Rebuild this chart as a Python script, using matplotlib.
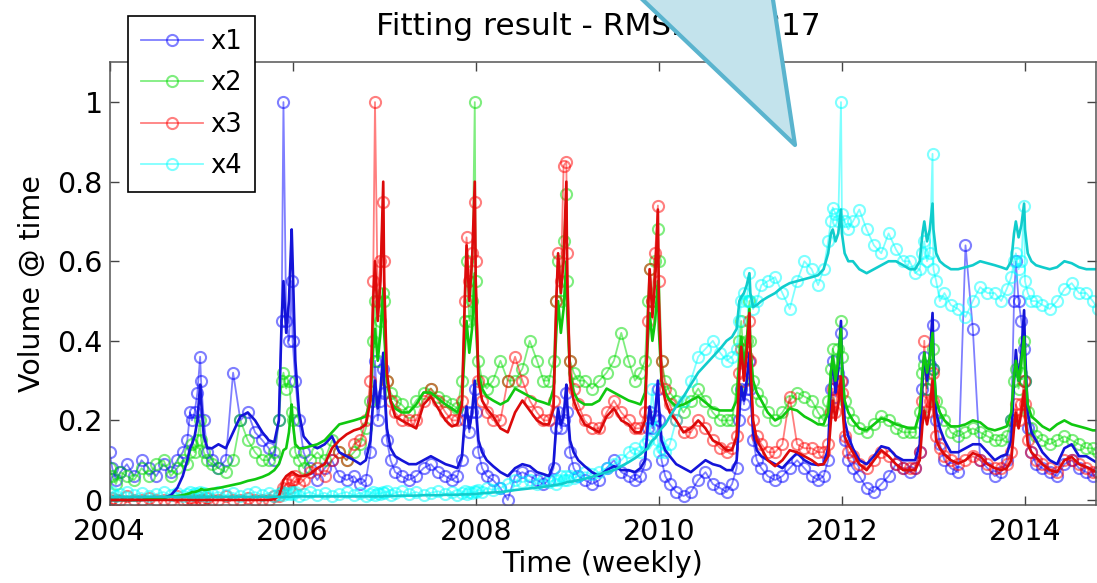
import matplotlib
matplotlib.use("Agg")
import matplotlib.pyplot as plt
from matplotlib.patches import Polygon

# weekly series resampled onto a coarser grid: year + offset inside the year
YEARS = list(range(2004, 2015))
OFFSETS = [0.0, 0.03, 0.07, 0.12, 0.19, 0.27, 0.35, 0.43, 0.51, 0.59,
           0.67, 0.74, 0.8, 0.85, 0.88, 0.9, 0.93, 0.96, 0.99]
t = [y + o for y in YEARS for o in OFFSETS if y + o <= 2014.81]

labels = ["x1", "x2", "x3", "x4"]

# observed volumes (one row per year)
x1_obs = [
    .12, .08, .05, .07, .09, .06, .1, .08, .06, .09, .07, .1, .12, .15, .22, .2, .22, .27, .36,
    .3, .2, .12, .1, .08, .1, .32, .2, .22, .17, .15, .13, .1, .2, .45, 1.0, .45, .4, .55,
    .4, .3, .2, .12, .08, .05, .08, .1, .06, .05, .06, .04, .05, .12, .25, .35, .2, .25, .33,
    .27, .15, .1, .07, .06, .05, .06, .08, .09, .07, .06, .05, .06, .1, .2, .22, .17, .22, .28,
    .22, .12, .08, .06, .05, .03, 0.0, .06, .07, .06, .05, .04, .05, .08, .18, .22, .18, .2, .27,
    .22, .12, .08, .06, .05, .04, .05, .08, .1, .07, .06, .05, .06, .09, .18, .22, .18, .21, .28,
    .2, .1, .06, .04, .02, .01, .02, .05, .07, .04, .03, .02, .04, .08, .2, .28, .24, .28, .35,
    .28, .15, .1, .08, .06, .05, .06, .08, .1, .08, .06, .05, .06, .1, .28, .35, .26, .32, .42,
    .3, .15, .1, .08, .06, .03, .02, .04, .06, .09, .08, .07, .08, .12, .28, .36, .28, .34, .44,
    .33, .2, .14, .1, .08, .07, .64, .43, .1, .08, .06, .07, .1, .2, .5, .6, .5, .45, .38,
    .3, .18, .12, .09, .08, .07, .06, .09, .1, .08, .07, .06, .07,
]
x2_obs = [
    .08, .06, .04, .07, .06, .05, .08, .06, .09, .1, .06, .08, .1, .09, .12, .14, .12, .15, .2,
    .15, .12, .1, .09, .08, .07, .1, .2, .15, .12, .1, .1, .12, .2, .3, .32, .28, .3, .22,
    .2, .12, .1, .08, .1, .12, .1, .15, .12, .1, .12, .14, .18, .25, .4, .5, .35, .45, .52,
    .5, .3, .27, .25, .24, .22, .25, .27, .28, .26, .25, .24, .23, .3, .45, .6, .45, .5, 1.0,
    .55, .35, .3, .28, .3, .35, .3, .3, .33, .4, .35, .3, .3, .35, .5, .6, .5, .65, .77,
    .55, .35, .32, .3, .3, .28, .3, .32, .35, .42, .35, .3, .32, .35, .5, .58, .5, .6, .68,
    .6, .35, .3, .27, .25, .22, .25, .28, .25, .22, .2, .2, .2, .28, .4, .45, .35, .4, .5,
    .4, .3, .27, .25, .22, .2, .22, .25, .27, .26, .25, .22, .2, .25, .33, .38, .32, .38, .45,
    .36, .25, .22, .2, .18, .17, .19, .21, .2, .18, .17, .17, .17, .22, .32, .34, .28, .32, .38,
    .33, .25, .22, .2, .17, .16, .17, .18, .17, .16, .15, .15, .16, .2, .3, .33, .28, .32, .4,
    .3, .22, .18, .16, .15, .14, .15, .16, .15, .14, .13, .13, .12,
]
x3_obs = [
    0, .005, 0, 0, .01, 0, 0, .005, 0, 0, 0, .01, 0, 0, .005, 0, 0, .01, 0,
    0, 0, .005, 0, 0, .01, 0, 0, .005, 0, 0, 0, .01, .01, .02, .03, .04, .03, .05,
    .05, .06, .04, .05, .07, .08, .06, .1, .12, .1, .14, .15, .2, .3, .55, 1.0, .5, .6, .75,
    .6, .3, .25, .22, .2, .2, .2, .25, .28, .25, .22, .2, .2, .25, .5, .66, .55, .62, .75,
    .6, .3, .25, .22, .2, .2, .3, .36, .3, .25, .22, .2, .2, .25, .5, .62, .55, .84, .85,
    .62, .35, .28, .24, .2, .18, .18, .22, .25, .22, .2, .18, .18, .22, .45, .58, .5, .62, .74,
    .55, .35, .28, .24, .2, .17, .17, .2, .18, .15, .13, .12, .13, .16, .32, .38, .3, .36, .45,
    .35, .2, .16, .14, .12, .12, .14, .26, .14, .13, .13, .12, .12, .14, .22, .28, .22, .3, .3,
    .27, .16, .12, .11, .09, .08, .1, .12, .11, .09, .08, .08, .08, .12, .25, .4, .22, .25, .32,
    .25, .16, .13, .11, .1, .09, .1, .11, .1, .09, .08, .08, .09, .12, .2, .24, .2, .24, .3,
    .24, .15, .12, .1, .09, .08, .07, .1, .1, .09, .08, .07, .07,
]
x4_obs = [
    .015, .02, .01, .015, .02, .012, .018, .01, .015, .02, .012, .018, .01, .015, .02, .012, .018, .015, .02,
    .012, .018, .01, .015, .02, .012, .018, .01, .015, .02, .012, .018, .01, .015, .02, .012, .018, .015, .02,
    .015, .02, .01, .015, .02, .012, .018, .01, .015, .02, .012, .018, .01, .015, .02, .012, .018, .015, .02,
    .018, .022, .012, .018, .022, .015, .02, .012, .018, .022, .015, .02, .012, .018, .022, .015, .02, .018, .022,
    .02, .025, .02, .03, .025, .03, .04, .05, .045, .05, .04, .05, .045, .05, .04, .05, .06, .05, .06,
    .05, .06, .055, .06, .07, .065, .07, .08, .09, .1, .12, .13, .12, .14, .15, .2, .28, .18, .15,
    .12, .13, .12, .14, .2, .25, .3, .36, .38, .4, .37, .35, .36, .38, .45, .5, .52, .5, .57,
    .5, .48, .5, .54, .55, .56, .52, .48, .55, .6, .58, .54, .58, .65, .7, .735, .72, .7, 1.0,
    .72, .7, .68, .7, .73, .68, .64, .62, .67, .63, .6, .6, .57, .58, .62, .65, .6, .62, .87,
    .58, .55, .5, .52, .49, .48, .46, .5, .535, .52, .52, .5, .53, .56, .6, .62, .58, .6, .74,
    .55, .52, .5, .5, .49, .48, .5, .53, .545, .52, .52, .5, .48,
]

# fitted model output
x1_fit = [
    0, 0, 0, 0, 0, 0, 0, .001, .002, .005, .012, .03, .06, .1, .13, .14, .16, .2, .29,
    .25, .16, .13, .13, .14, .13, .17, .21, .22, .2, .17, .15, .145, .2, .45, .55, .42, .5, .68,
    .6, .35, .22, .16, .14, .13, .14, .16, .12, .11, .1, .09, .1, .15, .25, .3, .23, .28, .37,
    .3, .18, .13, .11, .1, .09, .09, .1, .11, .1, .09, .085, .08, .11, .2, .235, .18, .22, .3,
    .24, .15, .12, .1, .085, .07, .06, .08, .09, .085, .07, .065, .06, .09, .19, .23, .19, .21, .29,
    .24, .15, .12, .1, .085, .07, .06, .075, .085, .075, .075, .07, .08, .1, .19, .235, .19, .22, .3,
    .24, .15, .125, .11, .09, .08, .07, .085, .1, .09, .085, .075, .075, .1, .22, .285, .25, .3, .37,
    .3, .17, .125, .11, .1, .09, .08, .1, .118, .1, .09, .088, .09, .13, .3, .36, .27, .33, .45,
    .35, .2, .16, .13, .1, .09, .11, .135, .13, .11, .1, .1, .1, .14, .3, .37, .3, .36, .47,
    .37, .22, .18, .15, .12, .12, .13, .14, .14, .12, .1, .11, .115, .15, .3, .377, .3, .37, .477,
    .38, .22, .17, .15, .12, .1, .09, .13, .14, .11, .11, .1, .092,
]
x2_fit = [
    0, 0, 0, 0, 0, 0, 0, .002, .004, .006, .008, .01, .012, .015, .017, .02, .02, .022, .025,
    .028, .025, .026, .028, .03, .034, .038, .042, .048, .052, .058, .065, .075, .09, .11, .125, .13, .17, .24,
    .2, .14, .13, .13, .135, .14, .15, .17, .19, .195, .2, .205, .21, .25, .38, .43, .35, .42, .53,
    .42, .3, .25, .23, .22, .22, .24, .27, .27, .255, .24, .23, .22, .25, .38, .45, .37, .43, .57,
    .45, .32, .28, .26, .25, .24, .25, .28, .27, .26, .25, .245, .24, .28, .42, .5, .42, .48, .6,
    .47, .32, .27, .25, .24, .24, .25, .28, .27, .26, .25, .245, .24, .27, .4, .47, .4, .45, .55,
    .43, .3, .27, .25, .235, .24, .25, .26, .245, .23, .225, .225, .225, .25, .35, .41, .335, .4, .48,
    .38, .3, .27, .25, .22, .2, .21, .23, .225, .21, .2, .19, .19, .22, .32, .36, .3, .35, .43,
    .34, .25, .22, .2, .18, .175, .19, .205, .2, .19, .185, .18, .18, .22, .32, .37, .32, .36, .42,
    .34, .25, .22, .2, .185, .185, .19, .2, .195, .18, .175, .18, .185, .22, .31, .35, .3, .35, .41,
    .33, .24, .21, .2, .185, .175, .19, .2, .19, .185, .18, .175, .175,
]
x3_fit = [
    0, 0, 0, 0, 0, 0, 0, 0, 0, 0, 0, 0, 0, 0, 0, 0, 0, 0, 0,
    0, 0, 0, 0, 0, 0, 0, 0, 0, 0, 0, 0, .002, .01, .03, .05, .06, .065, .07,
    .07, .065, .06, .06, .065, .08, .09, .13, .15, .165, .175, .18, .19, .25, .5, .6, .45, .55, .8,
    .55, .32, .25, .21, .2, .19, .18, .24, .26, .23, .2, .185, .19, .24, .5, .64, .5, .6, .8,
    .55, .3, .25, .23, .21, .18, .17, .22, .25, .225, .2, .19, .19, .23, .5, .62, .52, .6, .8,
    .55, .3, .25, .22, .19, .18, .17, .21, .23, .2, .19, .17, .17, .2, .45, .58, .46, .55, .73,
    .5, .3, .25, .22, .2, .17, .18, .2, .18, .15, .14, .125, .125, .16, .32, .385, .3, .37, .47,
    .35, .2, .15, .13, .1, .085, .1, .125, .12, .11, .1, .088, .09, .11, .2, .25, .2, .24, .31,
    .25, .16, .14, .12, .09, .075, .1, .125, .11, .09, .075, .075, .075, .1, .19, .225, .19, .23, .3,
    .24, .15, .13, .115, .1, .092, .1, .118, .11, .09, .08, .075, .08, .1, .18, .22, .18, .22, .275,
    .22, .14, .12, .108, .09, .075, .07, .1, .108, .09, .083, .075, .068,
]
x4_fit = [
    .008, .008, .008, .008, .008, .008, .008, .008, .008, .008, .008, .008, .008, .008, .008, .008, .008, .008, .008,
    .008, .008, .008, .008, .008, .008, .008, .008, .008, .008, .008, .008, .008, .008, .008, .008, .008, .008, .008,
    .009, .009, .009, .009, .009, .009, .009, .009, .009, .009, .009, .009, .009, .009, .009, .009, .009, .009, .009,
    .01, .01, .01, .01, .011, .011, .011, .012, .012, .012, .013, .013, .013, .014, .014, .014, .014, .015, .015,
    .015, .016, .017, .018, .019, .02, .022, .025, .027, .029, .031, .033, .035, .037, .038, .039, .04, .042, .044,
    .045, .046, .047, .05, .053, .058, .065, .07, .075, .085, .095, .105, .115, .125, .13, .14, .15, .155, .165,
    .17, .18, .19, .21, .235, .26, .29, .32, .34, .36, .38, .4, .41, .43, .5, .51, .52, .54, .57,
    .52, .485, .49, .5, .51, .52, .535, .545, .55, .555, .56, .565, .58, .62, .67, .68, .65, .67, .73,
    .67, .62, .6, .6, .58, .57, .58, .59, .6, .6, .59, .58, .58, .6, .67, .7, .65, .68, .745,
    .68, .62, .6, .59, .58, .58, .585, .59, .6, .595, .59, .585, .58, .6, .67, .7, .66, .69, .745,
    .68, .62, .6, .59, .585, .58, .585, .6, .595, .585, .58, .58, .58,
]

observed = [x1_obs, x2_obs, x3_obs, x4_obs]
fitted = [x1_fit, x2_fit, x3_fit, x4_fit]
obs_colors = ["#0000ff", "#00dd00", "#ff0000", "#00ffff"]
fit_colors = ["#1414d8", "#10c810", "#dc0a0a", "#10cccc"]

for s in observed + fitted:
    assert len(s) == len(t), (len(s), len(t))

plt.rcParams["font.family"] = "DejaVu Sans"

W, H = 1097, 583
fig = plt.figure(figsize=(W / 100, H / 100), dpi=100)
ax = fig.add_axes([109.5 / W, 1 - 505 / H, 986 / W, 442.7 / H])

handles = []
for vals, c, lab in zip(observed, obs_colors, labels):
    h, = ax.plot(t, vals, "-o", color=c, alpha=0.5, lw=1.3, ms=8,
                 mfc="none", mew=1.5, label=lab)
    handles.append(h)
for vals, c in zip(fitted, fit_colors):
    ax.plot(t, vals, "-", color=c, lw=1.9)

ax.set_xlim(2004, 2014.77)
ax.set_ylim(-0.0126, 1.1)
ax.set_xticks([2004, 2006, 2008, 2010, 2012, 2014])
ax.set_yticks([0, 0.2, 0.4, 0.6, 0.8, 1.0])
ax.set_yticklabels(["0", "0.2", "0.4", "0.6", "0.8", "1"])
ax.tick_params(direction="in", length=6.5, width=1, colors="#444444",
               labelcolor="black", labelsize=20.5, top=True, right=True)
ax.tick_params(axis="x", pad=9)
ax.tick_params(axis="y", pad=5)
for sp in ax.spines.values():
    sp.set_color("#555555")
    sp.set_linewidth(1.1)

ax.set_xlabel("Time (weekly)", fontsize=20.5, labelpad=3)
ax.set_ylabel("Volume @ time", fontsize=20.5, labelpad=8)

fig.text(598.5 / W, 1 - 35 / H, "Fitting result - RMSE: 0.0817",
         ha="center", va="baseline", fontsize=22.5)

leg = ax.legend(handles=handles, loc="upper left",
                bbox_to_anchor=(128 / W, 1 - 16 / H),
                bbox_transform=fig.transFigure, borderaxespad=0,
                fontsize=18.5, handlelength=2.4, handletextpad=0.3,
                labelspacing=0.6, borderpad=0.5, fancybox=False,
                framealpha=1, edgecolor="black")
leg.get_frame().set_linewidth(1.2)

# callout pointer pasted over the top of the figure
tip = [(622, -20), (795, 145), (770, -20)]
poly = Polygon([(x / W, 1 - y / H) for x, y in tip], closed=True,
               transform=fig.transFigure, facecolor="#c3e3ec",
               edgecolor="#5ab4ce", lw=3, joinstyle="round", zorder=20)
fig.add_artist(poly)

fig.savefig("out.png", dpi=100)
